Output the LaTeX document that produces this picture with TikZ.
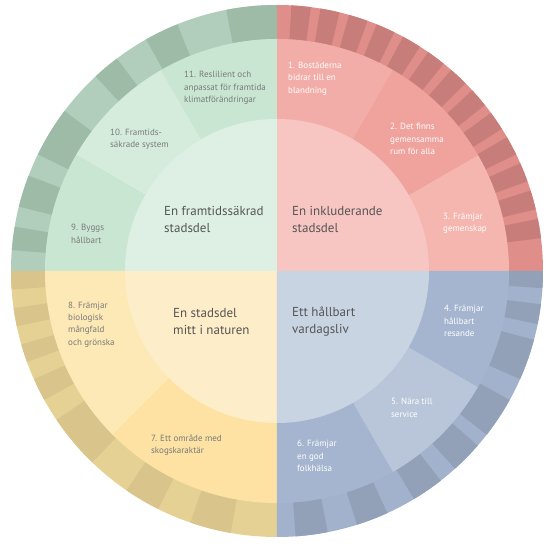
\documentclass[tikz,border=0pt]{standalone}
\usepackage{fontspec}
\setmainfont{PT Sans}
\definecolor{pinkin}{HTML}{F7C6C3}
\definecolor{pinka}{HTML}{F3ADA8}
\definecolor{pinkb}{HTML}{F0A29D}
\definecolor{pinkc}{HTML}{F5B6B0}
\definecolor{pinklight}{HTML}{E08E8A}
\definecolor{pinkdark}{HTML}{C77E7B}
\definecolor{bluein}{HTML}{C9D4E3}
\definecolor{bluea}{HTML}{A5B5CF}
\definecolor{blueb}{HTML}{B9C6DA}
\definecolor{bluelight}{HTML}{A2B2CC}
\definecolor{bluedark}{HTML}{92A1B7}
\definecolor{yellowin}{HTML}{FDEDC8}
\definecolor{yellowa}{HTML}{FDE2A3}
\definecolor{yellowb}{HTML}{FDE9B6}
\definecolor{yellowlight}{HTML}{E6D195}
\definecolor{yellowdark}{HTML}{D9C48C}
\definecolor{greenin}{HTML}{DEF0E4}
\definecolor{greena}{HTML}{C9E6D3}
\definecolor{greenb}{HTML}{D5ECDD}
\definecolor{greenlight}{HTML}{B1CDBB}
\definecolor{greendark}{HTML}{9DBBA7}
\definecolor{themegray}{HTML}{555555}
\definecolor{goalgray}{HTML}{7A7A7A}
\tikzset{
  theme/.style={font=\fontsize{13}{17}\selectfont, text=themegray, align=left, anchor=west, inner sep=0pt},
  goal/.style={font=\fontsize{9}{12.3}\selectfont, align=left, anchor=west, inner sep=0pt},
  goalwhite/.style={goal, text=white},
  goaldark/.style={goal, text=goalgray},
}
\begin{document}
\begin{tikzpicture}[x=1pt, y=1pt]
  \useasboundingbox (-277,-274) rectangle (273,271);

  % Outer ring, light base
  \fill[pinklight] (0,0) -- (0:266) arc (0:90:266) -- cycle;
  \fill[greenlight] (0,0) -- (90:266) arc (90:180:266) -- cycle;
  \fill[yellowlight] (0,0) -- (180:266) arc (180:270:266) -- cycle;
  \fill[bluelight] (0,0) -- (270:266) arc (270:360:266) -- cycle;

  % Outer ring, dark pieces
  \foreach \k [evaluate=\k as \a using 82.7-6.3*\k, evaluate=\k as \b using 86.9-6.3*\k] in {0,...,12}
    \fill[pinkdark] (\a:232) arc (\a:\b:232) -- (\b:266) arc (\b:\a:266) -- cycle;
  \foreach \a/\b in {90/101, 112/119.5, 127/133, 143/154, 159/166, 170.4/175.5}
    \fill[greendark] (\a:232) arc (\a:\b:232) -- (\b:266) arc (\b:\a:266) -- cycle;
  \foreach \a/\b in {180/184, 188/192, 196/200, 204/209, 214/226, 235.5/243.5, 251/260}
    \fill[yellowdark] (\a:232) arc (\a:\b:232) -- (\b:266) arc (\b:\a:266) -- cycle;
  \foreach \a/\b in {274/281, 287.5/294.5, 301/308, 312/319, 322/331, 336/345, 348.5/352.8, 356.3/360}
    \fill[bluedark] (\a:232) arc (\a:\b:232) -- (\b:266) arc (\b:\a:266) -- cycle;

  % Middle ring, one piece per goal
  \fill[pinkc] (0,0) -- (0:232) arc (0:30:232) -- cycle;
  \fill[pinkb] (0,0) -- (30:232) arc (30:60:232) -- cycle;
  \fill[pinka] (0,0) -- (60:232) arc (60:90:232) -- cycle;
  \fill[greena] (0,0) -- (90:232) arc (90:120:232) -- cycle;
  \fill[greenb] (0,0) -- (120:232) arc (120:150:232) -- cycle;
  \fill[greena] (0,0) -- (150:232) arc (150:180:232) -- cycle;
  \fill[yellowb] (0,0) -- (180:232) arc (180:225:232) -- cycle;
  \fill[yellowa] (0,0) -- (225:232) arc (225:270:232) -- cycle;
  \fill[bluea] (0,0) -- (270:232) arc (270:300:232) -- cycle;
  \fill[blueb] (0,0) -- (300:232) arc (300:330:232) -- cycle;
  \fill[bluea] (0,0) -- (330:232) arc (330:360:232) -- cycle;

  % Inner circle, one quarter per theme
  \fill[pinkin] (0,0) -- (0:152) arc (0:90:152) -- cycle;
  \fill[greenin] (0,0) -- (90:152) arc (90:180:152) -- cycle;
  \fill[yellowin] (0,0) -- (180:152) arc (180:270:152) -- cycle;
  \fill[bluein] (0,0) -- (270:152) arc (270:360:152) -- cycle;

  % Themes
  \node[theme] (inkl) at (15,51.5) {En inkluderande\\stadsdel};
  \node[theme] (vard) at (15,-51) {Ett hållbart\\vardagsliv};
  \node[theme] (natur) at (-104,-51) {En stadsdel\\mitt i naturen};
  \node[theme] (framt) at (-113,51.5) {En framtidssäkrad\\stadsdel};

  % Goals
  \node[goalwhite] (g1) at (11,192.5) {1. Bostäderna\\bidrar till en\\blandning};
  \node[goalwhite] (g2) at (113,132) {2. Det finns\\gemensamma\\rum för alla};
  \node[goalwhite] (g3) at (166,48) {3. Främjar\\gemenskap};
  \node[goalwhite] (g4) at (167,-50) {4. Främjar\\hållbart\\resande};
  \node[goalwhite] (g5) at (114,-137) {5. Nära till\\service};
  \node[goalwhite] (g6) at (20,-185) {6. Främjar\\en god\\folkhälsa};
  \node[goaldark] (g7) at (-126,-174) {7. Ett område med\\skogskaraktär};
  \node[goaldark] (g8) at (-209,-53.5) {8. Främjar\\biologisk\\mångfald\\och grönska};
  \node[goaldark] (g9) at (-206,37) {9. Byggs\\hållbart};
  \node[goaldark] (g10) at (-167,132) {10. Framtids-\\säkrade system};
  \node[goaldark] (g11) at (-93,183) {11. Reslilient och\\anpassat för framtida\\klimatförändringar};
\end{tikzpicture}
\end{document}
